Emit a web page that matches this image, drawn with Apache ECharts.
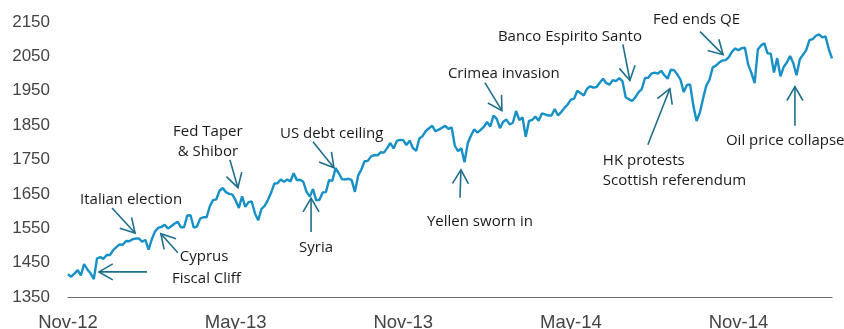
<!DOCTYPE html>
<html>
<head>
<meta charset="utf-8">
<script src="https://cdn.jsdelivr.net/npm/echarts@6/dist/echarts.min.js"></script>
<style>
 html, body { margin: 0; padding: 0; background: #fff; }
 #chart { width: 844px; height: 329px; }
</style>
</head>
<body>
<div id="chart"></div>
<script>
/** data: S&P 500, two readings per week, 30 Nov 2012 - Mar 2015 **/
var values = [
 1416,
 1409, 1418, 1428, 1413, 1446, 1430, 1419, 1402,
 1462, 1466, 1461, 1472, 1472, 1486, 1495, 1503,
 1502, 1513, 1512, 1518, 1520, 1520, 1511, 1516,
 1488, 1518, 1541, 1551, 1554, 1560, 1549, 1556, 1563, 1569,
 1553, 1553, 1587, 1588, 1552, 1555, 1578, 1582,
 1582, 1614, 1632, 1634, 1659, 1667, 1655, 1650, 1648, 1631,
 1609, 1643, 1612, 1626, 1628, 1593, 1573, 1606,
 1615, 1632, 1653, 1680, 1681, 1692, 1685, 1692,
 1686, 1710, 1690, 1691, 1685, 1656, 1642, 1664, 1631, 1633,
 1654, 1655, 1690, 1688, 1725, 1710, 1693, 1692,
 1694, 1690, 1656, 1703, 1721, 1745, 1746, 1759,
 1763, 1762, 1771, 1770, 1783, 1798, 1782, 1804, 1807, 1806,
 1792, 1805, 1783, 1775, 1811, 1818, 1833, 1841,
 1848, 1832, 1837, 1842, 1848, 1839, 1844, 1790, 1774, 1783,
 1742, 1797, 1819, 1838, 1828, 1836, 1845, 1859,
 1846, 1878, 1868, 1841, 1860, 1866, 1852, 1857,
 1891, 1865, 1872, 1816, 1862, 1865, 1875, 1863,
 1884, 1881, 1878, 1878, 1897, 1878, 1888, 1900, 1910, 1924,
 1927, 1950, 1943, 1936, 1956, 1963, 1959, 1961,
 1974, 1985, 1972, 1968, 1981, 1978, 1987, 1978,
 1931, 1925, 1920, 1931, 1946, 1955, 1987, 1988, 2000, 2003,
 2000, 2008, 1995, 1985, 2011, 2010, 1998, 1982,
 1946, 1967, 1968, 1906, 1862, 1886, 1927, 1965, 1982, 2018,
 2023, 2032, 2038, 2039, 2048, 2064, 2073, 2068,
 2074, 2075, 2026, 2002, 1972, 2070, 2082, 2088,
 2059, 2058, 2003, 2045, 1992, 2019, 2032, 2051, 2030, 1995,
 2041, 2055, 2068, 2097, 2100, 2110, 2114, 2105,
 2108, 2071, 2044
];

// x tick positions (index into values) and their labels
var tickIndex = [0, 52, 104, 156, 208];
var tickText = ['Nov-12', 'May-13', 'Nov-13', 'May-14', 'Nov-14'];

// annotations: tip anchored in data space (index, value)
var notes = [
 { text: 'Fiscal Cliff', idx: 9.6, val: 1423 },
 { text: 'Cyprus', idx: 28.8, val: 1534 },
 { text: 'Italian election', idx: 20.8, val: 1536 },
 { text: 'Fed Taper\n& Shibor', idx: 52.7, val: 1668 },
 { text: 'Syria', idx: 75.4, val: 1638 },
 { text: 'US debt ceiling', idx: 82.5, val: 1726 },
 { text: 'Yellen sworn in', idx: 121.9, val: 1720 },
 { text: 'Crimea invasion', idx: 134.6, val: 1892 },
 { text: 'Banco Espirito Santo', idx: 174.3, val: 1980 },
 { text: 'Fed ends QE', idx: 203.2, val: 2055 },
 { text: 'HK protests\nScottish referendum', idx: 186.7, val: 1956 },
 { text: 'Oil price collapse', idx: 225.5, val: 1962 }
];

// tail of each arrow and text offset, in px relative to the tip
var layout = [
 { tail: [48, 0], tx: 73, ty: 7, align: 'left' },
 { tail: [17, 19], tx: 19, ty: 23, align: 'left' },
 { tail: [-23, -25], tx: -4, ty: -33, align: 'center' },
 { tail: [-8, -28], tx: -30, ty: -46, align: 'center' },
 { tail: [0, 34], tx: 5, ty: 50, align: 'center' },
 { tail: [-21, -26], tx: -54, ty: -34, align: 'left' },
 { tail: [-1, 28], tx: -34, ty: 52, align: 'left' },
 { tail: [-17, -28], tx: -54, ty: -37, align: 'left' },
 { tail: [-7, -36], tx: -132, ty: -44, align: 'left' },
 { tail: [-23, -23], tx: -70, ty: -35, align: 'left' },
 { tail: [-22, 56], tx: -67, ty: 82, align: 'left' },
 { tail: [0, 39], tx: -69, ty: 54, align: 'left' }
];

var chart = echarts.init(document.getElementById('chart'));

var option = {
 animation: false,
 grid: { left: 68, right: 12, top: 22, bottom: 32, outerBoundsMode: 'none', containLabel: false },
 xAxis: {
  type: 'value',
  min: 0,
  max: values.length - 1,
  interval: 52,
  splitLine: { show: false },
  axisTick: { show: false },
  axisLine: { show: true, lineStyle: { color: '#6b6b6b', width: 1.2 } },
  axisLabel: {
   margin: 16,
   color: '#444',
   fontSize: 18.5,
   fontFamily: 'Liberation Sans',
   showMaxLabel: false,
   formatter: function(v) {
    var i = tickIndex.indexOf(v);
    return i >= 0 ? tickText[i] : '';
   }
  }
 },
 yAxis: {
  type: 'value',
  min: 1350,
  max: 2150,
  interval: 100,
  splitLine: { show: false },
  axisLine: { show: false },
  axisTick: { show: false },
  axisLabel: {
   margin: 18,
   color: '#444',
   fontSize: 17,
   fontFamily: 'Liberation Sans',
   formatter: function(v) { return String(v); }
  }
 },
 series: [
  {
   type: 'line',
   data: values.map(function(v, i) { return [i, v]; }),
   showSymbol: false,
   lineStyle: { color: '#1790c6', width: 2.4 },
   z: 2
  }
 ]
};
chart.setOption(option);

/** annotation arrows **/
var arrowColor = '#1f6e8c';
var graphics = [];
notes.forEach(function(n, k) {
 var lay = layout[k];
 var tip = chart.convertToPixel({ gridIndex: 0 }, [n.idx, n.val]);
 var tail = [tip[0] + lay.tail[0], tip[1] + lay.tail[1]];
 var ang = Math.atan2(tail[1] - tip[1], tail[0] - tip[0]);
 var headLen = 16, spread = Math.PI / 6;
 var h1 = [tip[0] + headLen * Math.cos(ang + spread), tip[1] + headLen * Math.sin(ang + spread)];
 var h2 = [tip[0] + headLen * Math.cos(ang - spread), tip[1] + headLen * Math.sin(ang - spread)];
 graphics.push({
  type: 'polyline',
  shape: { points: [tail, tip] },
  style: { stroke: arrowColor, lineWidth: 1.6, fill: null },
  z: 10
 });
 graphics.push({
  type: 'polyline',
  shape: { points: [h1, tip, h2] },
  style: { stroke: arrowColor, lineWidth: 1.6, fill: null },
  z: 10
 });
 graphics.push({
  type: 'text',
  x: tip[0] + lay.tx,
  y: tip[1] + lay.ty,
  style: {
   text: n.text,
   fill: '#1a1a1a',
   font: '15px "Open Sans"',
   lineHeight: 20,
   align: lay.align,
   verticalAlign: 'middle'
  },
  z: 10
 });
});
chart.setOption({ graphic: graphics });
</script>
</body>
</html>
